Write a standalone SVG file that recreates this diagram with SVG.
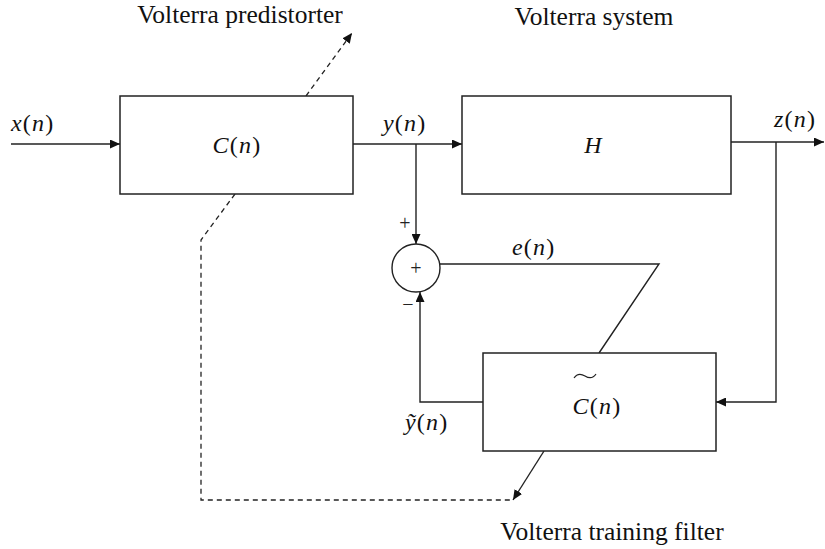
<svg xmlns="http://www.w3.org/2000/svg" width="825" height="549" viewBox="0 0 825 549">
  <defs>
    <marker id="arr" markerWidth="10" markerHeight="9" refX="10" refY="4.5" orient="auto" markerUnits="userSpaceOnUse">
      <path d="M0,0 L10,4.5 L0,9 Z" fill="#111"/>
    </marker>
  </defs>

  <!-- connectors -->
  <g id="connectors" fill="none" stroke="#222" stroke-width="1.4">
    <path d="M11,144 H120" marker-end="url(#arr)"/>
    <path d="M353,144 H462" marker-end="url(#arr)"/>
    <path d="M416,144 V244" marker-end="url(#arr)"/>
    <path d="M731,142 H824" marker-end="url(#arr)"/>
    <path d="M776,142 V402 H716" marker-end="url(#arr)"/>
    <path d="M483,402 H420 V292" marker-end="url(#arr)"/>
    <path d="M440,264 H659 L599,353"/>
    <path d="M544,451 L513,500" marker-end="url(#arr)"/>
    <path d="M306,96 L352,33" stroke-width="1.3" stroke-dasharray="5 4" marker-end="url(#arr)"/>
    <path d="M235,194 L201,240 V500 H510" stroke-width="1.3" stroke-dasharray="5 4"/>
  </g>

  <!-- predistorter block -->
  <g id="predistorter">
    <rect x="120" y="96" width="233" height="98" fill="#fff" stroke="#222" stroke-width="1.5"/>
    <text x="237" y="153" text-anchor="middle" font-family="Liberation Serif" font-size="24" letter-spacing="1.2" fill="#111"><tspan font-style="italic">C</tspan>(<tspan font-style="italic">n</tspan>)</text>
  </g>

  <!-- system block -->
  <g id="system">
    <rect x="462" y="96" width="269" height="98" fill="#fff" stroke="#222" stroke-width="1.5"/>
    <text x="593" y="153" text-anchor="middle" font-family="Liberation Serif" font-size="24" font-style="italic" fill="#111">H</text>
  </g>

  <!-- training filter block, with a wide tilde over the C -->
  <g id="training">
    <rect x="483" y="353" width="233" height="98" fill="#fff" stroke="#222" stroke-width="1.5"/>
    <text x="597" y="414" text-anchor="middle" font-family="Liberation Serif" font-size="24" letter-spacing="1.2" fill="#111"><tspan font-style="italic">C</tspan>(<tspan font-style="italic">n</tspan>)</text>
    <path fill="none" stroke="#222" stroke-width="1.2" d="M574,378 C577,373.5 581,373.5 585,376 C589,378.5 593,378.5 596,374"/>
  </g>

  <!-- summing junction -->
  <g id="sum">
    <circle cx="416" cy="268" r="24" fill="#fff" stroke="#222" stroke-width="1.4"/>
    <text x="416" y="275" text-anchor="middle" font-family="Liberation Serif" font-size="20" fill="#222">+</text>
    <text x="405" y="230" text-anchor="middle" font-family="Liberation Serif" font-size="20" fill="#222">+</text>
    <text x="408" y="311" text-anchor="middle" font-family="Liberation Serif" font-size="20" fill="#222">−</text>
  </g>

  <!-- signal labels -->
  <g id="labels">
    <text x="11" y="131" font-family="Liberation Serif" font-size="24" letter-spacing="1.2" fill="#111"><tspan font-style="italic">x</tspan>(<tspan font-style="italic">n</tspan>)</text>
    <text x="383" y="131" font-family="Liberation Serif" font-size="24" letter-spacing="1.2" fill="#111"><tspan font-style="italic">y</tspan>(<tspan font-style="italic">n</tspan>)</text>
    <text x="774" y="127" font-family="Liberation Serif" font-size="24" letter-spacing="1.2" fill="#111"><tspan font-style="italic">z</tspan>(<tspan font-style="italic">n</tspan>)</text>
    <text x="512" y="255" font-family="Liberation Serif" font-size="24" letter-spacing="1.2" fill="#111"><tspan font-style="italic">e</tspan>(<tspan font-style="italic">n</tspan>)</text>
    <text x="405" y="430" font-family="Liberation Serif" font-size="24" letter-spacing="1.2" fill="#111"><tspan font-style="italic">ỹ</tspan>(<tspan font-style="italic">n</tspan>)</text>
  </g>

  <!-- captions -->
  <g id="captions">
    <text x="240" y="23" text-anchor="middle" font-family="Liberation Serif" font-size="25.5" fill="#111">Volterra predistorter</text>
    <text x="594" y="25" text-anchor="middle" font-family="Liberation Serif" font-size="25.5" fill="#111">Volterra system</text>
    <text x="612" y="540" text-anchor="middle" font-family="Liberation Serif" font-size="25.5" fill="#111">Volterra training filter</text>
  </g>
</svg>
